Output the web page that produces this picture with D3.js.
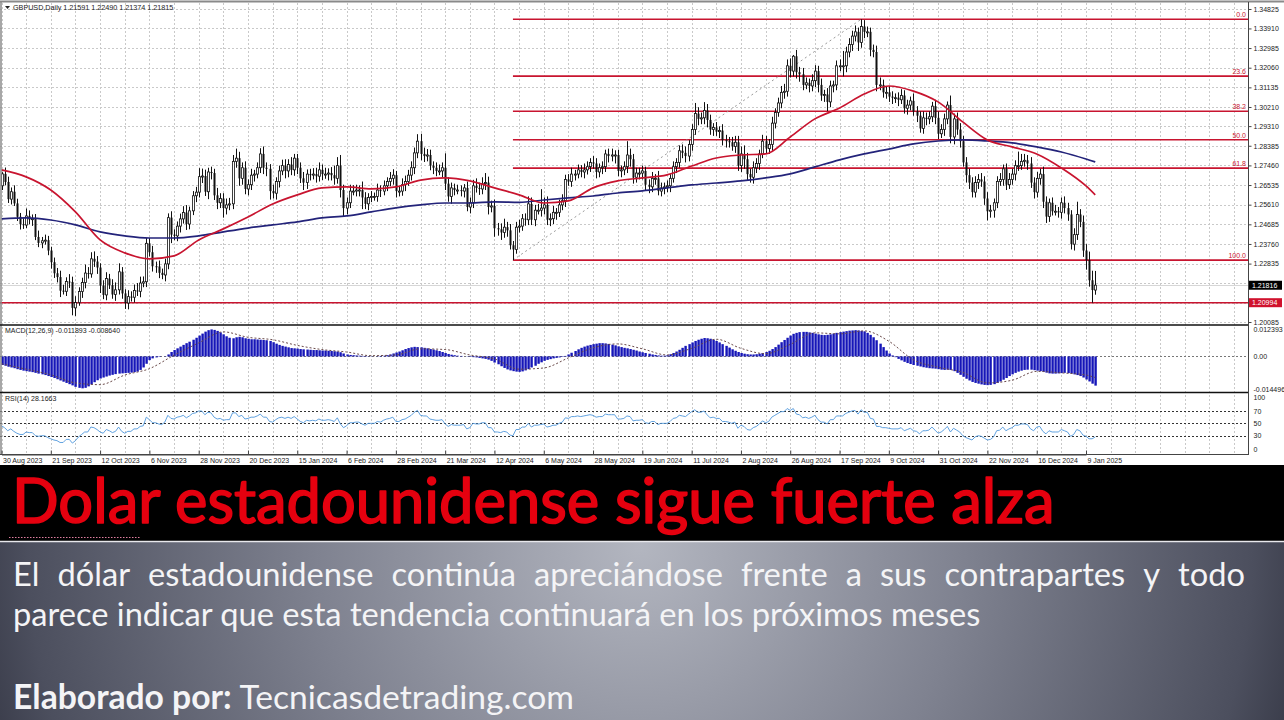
<!DOCTYPE html>
<html><head><meta charset="utf-8">
<script src="https://cdn.jsdelivr.net/npm/d3@7"></script>
<style>html,body{margin:0;padding:0;background:#fff;overflow:hidden}svg{display:block}</style>
</head><body><svg id="c" width="1284" height="720"></svg>
<script>
// ---------------- DATA ----------------
const headerText = "GBPUSD,Daily  1.21591 1.22490 1.21374 1.21815";
const firstOpen = 1.2650;
// daily closes, 30 Aug 2023 .. 14 Jan 2025 (16 bars per row)
const closes = [
1.2706,1.2668,1.2587,1.2622,1.2567,1.2504,1.2469,1.2465,1.2508,1.2491,1.2495,1.2409,1.2381,1.2391,1.2394,1.2345,
1.2290,1.2238,1.2220,1.2156,1.2153,1.2199,1.2197,1.2075,1.2100,1.2152,1.2195,1.2239,1.2235,1.2306,1.2293,1.2265,
1.2180,1.2136,1.2213,1.2182,1.2138,1.2160,1.2245,1.2143,1.2098,1.2128,1.2125,1.2157,1.2153,1.2192,1.2198,1.2379,
1.2337,1.2271,1.2270,1.2240,1.2230,1.2282,1.2500,1.2420,1.2414,1.2460,1.2494,1.2524,1.2470,1.2532,1.2603,1.2620,
1.2693,1.2696,1.2622,1.2715,1.2710,1.2605,1.2570,1.2590,1.2545,1.2560,1.2565,1.2765,1.2780,1.2685,1.2735,1.2635,
1.2655,1.2700,1.2705,1.2735,1.2800,1.2735,1.2730,1.2625,1.2615,1.2670,1.2720,1.2745,1.2720,1.2750,1.2725,1.2780,
1.2735,1.2685,1.2665,1.2705,1.2700,1.2705,1.2695,1.2725,1.2705,1.2705,1.2710,1.2700,1.2685,1.2745,1.2630,1.2545,
1.2570,1.2625,1.2625,1.2630,1.2630,1.2595,1.2565,1.2595,1.2600,1.2600,1.2630,1.2625,1.2650,1.2670,1.2685,1.2700,
1.2625,1.2625,1.2655,1.2670,1.2700,1.2735,1.2805,1.2860,1.2800,1.2790,1.2795,1.2745,1.2735,1.2720,1.2720,1.2735,
1.2660,1.2600,1.2640,1.2630,1.2630,1.2625,1.2640,1.2550,1.2570,1.2650,1.2640,1.2635,1.2660,1.2665,1.2550,1.2555,
1.2450,1.2445,1.2430,1.2455,1.2440,1.2370,1.2350,1.2455,1.2460,1.2495,1.2490,1.2565,1.2490,1.2535,1.2535,1.2545,
1.2560,1.2490,1.2495,1.2525,1.2525,1.2560,1.2580,1.2680,1.2670,1.2705,1.2705,1.2725,1.2715,1.2725,1.2740,1.2760,
1.2755,1.2715,1.2735,1.2740,1.2800,1.2790,1.2795,1.2795,1.2720,1.2725,1.2740,1.2795,1.2775,1.2690,1.2710,1.2710,
1.2720,1.2655,1.2645,1.2685,1.2685,1.2625,1.2640,1.2645,1.2650,1.2685,1.2740,1.2760,1.2815,1.2805,1.2790,1.2845,
1.2915,1.2990,1.2965,1.2970,1.3005,1.2960,1.2915,1.2925,1.2905,1.2910,1.2865,1.2860,1.2855,1.2835,1.2855,1.2745,
1.2800,1.2775,1.2705,1.2690,1.2735,1.2755,1.2800,1.2860,1.2825,1.2845,1.2945,1.2995,1.3040,1.3090,1.3095,1.3215,
1.3190,1.3260,1.3185,1.3175,1.3125,1.3135,1.3120,1.3145,1.3190,1.3125,1.3075,1.3080,1.3045,1.3120,1.3125,1.3215,
1.3215,1.3215,1.3280,1.3315,1.3355,1.3375,1.3325,1.3400,1.3375,1.3375,1.3290,1.3280,1.3125,1.3125,1.3090,1.3090,
1.3070,1.3065,1.3065,1.3055,1.3075,1.3015,1.3030,1.3050,1.3000,1.2980,1.2920,1.2970,1.2965,1.2975,1.3025,1.2970,
1.2895,1.2915,1.2965,1.3030,1.2880,1.2965,1.2915,1.2860,1.2760,1.2700,1.2665,1.2620,1.2665,1.2680,1.2670,1.2590,
1.2530,1.2535,1.2570,1.2670,1.2680,1.2730,1.2655,1.2680,1.2705,1.2745,1.2745,1.2765,1.2770,1.2755,1.2665,1.2620,
1.2685,1.2705,1.2575,1.2505,1.2570,1.2530,1.2530,1.2525,1.2570,1.2545,1.2515,1.2375,1.2420,1.2515,1.2480,1.2345,
1.2300,1.2205,1.2159,1.2182];
// upper / lower wick length beyond the body, in pips
const wickHi = [
8,30,25,20,30,22,18,28,35,26,20,22,30,18,26,20, 18,22,25,30,28,20,35,25,30,20,22,40,28,31,35,26,
20,25,30,22,28,35,40,22,20,30,25,28,35,30,25,25, 25,30,22,28,20,25,20,30,25,22,25,30,35,20,22,25,
40,35,30,20,25,20,35,25,25,30,28,30,45,30,25,30, 25,30,20,25,27,35,25,22,30,20,25,28,30,25,35,20,
20,25,30,22,25,28,30,35,25,30,22,28,45,40,50,25, 25,30,28,25,22,40,25,20,25,18,30,22,25,20,30,28,
20,25,30,28,25,30,25,33,35,30,28,25,20,25,30,25, 68,30,25,20,25,22,18,30,25,28,35,25,30,45,28,25,
30,25,28,40,25,30,20,25,30,22,25,35,30,25,30,89, 35,40,25,30,20,25,30,22,25,30,20,25,22,30,25,20,
30,25,20,25,20,25,30,22,25,20,25,65,30,25,25,25, 25,20,25,30,20,35,25,20,25,20,25,20,25,30,30,20,
25,50,30,25,39,30,25,20,25,20,30,25,20,25,30,30, 35,40,30,25,30,25,20,30,25,25,30,20,25,30,35,30,
35,6,30,25,30,25,20,30,28,25,30,22,30,25,20,25, 30,70,25,30,25,30,20,34,30,25,20,25,30,35,25,30,
30,25,20,25,30,25,25,20,35,25,20,30,25,25,20,30, 30,25,25,17,45,25,30,30,25,25,30,25,30,25,30,25,
30,25,20,25,30,20,25,30,25,25,66,35,30,25,30,25, 30,25,35,25,20,25,30,20,25,30,25,20,30,60,25,30,
30,40,45,67];
const wickLo = [
20,15,18,25,12,20,25,18,14,22,30,15,20,25,18,22, 30,22,25,30,15,22,28,35,38,15,30,28,22,18,25,30,
35,20,25,18,20,30,22,25,28,30,20,25,22,28,20,25, 20,25,30,25,20,30,25,40,20,25,30,22,28,25,20,30,
25,30,20,35,30,22,30,25,45,30,25,25,30,35,30,25, 30,25,30,20,25,30,35,40,25,30,28,20,35,30,25,28,
30,22,35,30,25,20,30,25,28,22,30,25,30,25,35,40, 30,25,20,25,30,55,25,30,22,20,25,28,20,25,22,30,
30,25,22,30,20,25,30,25,30,28,25,22,30,25,20,30, 30,25,35,25,20,25,30,20,30,25,22,28,25,30,35,25,
40,30,35,25,30,20,50,20,25,22,28,25,25,30,20,30, 30,25,30,25,35,22,25,30,20,25,30,20,25,30,22,25,
25,30,25,30,25,30,25,40,25,30,25,30,35,30,25,30, 30,25,30,25,30,20,25,30,25,30,20,30,25,25,30,25,
30,25,30,25,30,35,25,30,20,30,25,30,25,20,30,25, 30,45,30,25,30,25,30,20,25,25,30,25,20,25,30,25,
30,25,30,35,25,20,30,25,30,35,25,30,43,25,30,25, 25,50,30,25,30,25,40,25,30,25,30,25,30,25,25,30,
25,30,25,30,20,25,30,25,20,30,20,25,30,25,25,30, 25,20,30,25,30,35,25,30,20,35,30,25,25,30,25,30,
43,30,35,25,20,30,25,20,25,30,25,20,25,30,25,30, 25,30,30,30,25,20,20,25,30,25,30,25,30,25,25,30,
45,30,60,22];
// moving averages read at every 8th bar (+ last bar)
const maBars = [0,8,16,24,32,40,48,56,64,72,80,88,96,104,112,120,128,136,144,152,160,168,176,184,192,200,208,216,224,232,240,248,256,264,272,280,288,296,304,312,320,328,336,344,352,355];
const maRed = [1.2725,1.2692,1.2630,1.2527,1.2395,1.2334,1.2306,1.2320,1.2395,1.2447,1.2503,1.2564,1.2607,1.2640,1.2645,1.2635,1.2645,1.2677,1.2687,1.2673,1.2640,1.2607,1.2569,1.2579,1.2640,1.2673,1.2687,1.2701,1.2743,1.2781,1.2795,1.2800,1.2880,1.2965,1.3016,1.3082,1.3120,1.3096,1.3045,1.2951,1.2866,1.2833,1.2800,1.2734,1.2649,1.2607];
const maBlue = [1.2494,1.2499,1.2489,1.2466,1.2433,1.2414,1.2404,1.2404,1.2414,1.2433,1.2451,1.2466,1.2480,1.2499,1.2508,1.2527,1.2546,1.2560,1.2569,1.2569,1.2574,1.2572,1.2583,1.2593,1.2602,1.2616,1.2626,1.2640,1.2654,1.2663,1.2673,1.2687,1.2706,1.2739,1.2772,1.2800,1.2823,1.2847,1.2861,1.2866,1.2861,1.2852,1.2833,1.2809,1.2776,1.2762];
// MACD(12,26,9) main histogram per bar, x 1e-4
const macdHist = [
-35,-38,-42,-45,-48,-52,-55,-58,-60,-62,-64,-67,-70,-73,-76,-80, -84,-88,-93,-98,-103,-108,-113,-118,-124,-128,-130,-128,-122,-114,-105,-97,
-90,-86,-82,-78,-75,-72,-70,-69,-68,-67,-66,-64,-62,-55,-45,-30, -15,-8,-4,-2,0,1,8,18,26,33,40,47,54,60,68,76,
85,93,101,107,110,108,104,98,90,82,76,74,78,80,78,74, 72,70,70,69,68,67,66,63,58,52,47,43,40,37,34,33,
32,30,29,28,27,26,26,25,24,24,23,22,21,20,17,12, 8,6,5,4,3,2,2,1,1,0,1,2,3,5,8,12,
16,20,25,30,34,37,39,38,37,35,33,30,28,25,22,18, 14,10,7,5,3,2,0,-1,-2,-3,-4,-6,-8,-10,-13,-18,
-25,-32,-40,-47,-53,-57,-60,-62,-63,-61,-57,-52,-45,-38,-30,-24, -18,-14,-11,-8,-6,-4,-2,2,8,15,22,29,35,40,44,47,
50,52,54,54,53,51,48,45,41,38,35,33,30,27,24,20, 17,14,11,8,6,4,3,3,5,9,14,20,27,35,43,50,
57,63,68,72,75,74,72,68,63,57,50,43,36,29,23,18, 14,11,9,8,8,9,11,14,18,23,30,38,48,58,67,76,
85,92,96,99,100,100,98,96,93,90,88,87,88,90,93,96, 99,101,103,105,106,107,106,104,102,96,88,78,66,52,38,24,
12,4,-3,-10,-16,-22,-27,-31,-35,-38,-41,-44,-46,-48,-49,-50, -52,-54,-55,-54,-55,-60,-67,-75,-83,-91,-98,-104,-108,-111,-114,-116,
-117,-116,-113,-108,-102,-95,-88,-80,-73,-67,-62,-58,-55,-54,-54,-56, -58,-60,-63,-66,-69,-70,-70,-69,-68,-67,-68,-70,-73,-76,-80,-86,
-94,-102,-111,-119];
// MACD signal read at maBars, x 1e-4
const macdSignal = [-30,-52,-75,-108,-115,-76,-50,5,55,100,78,68,45,28,18,3,6,31,28,6,-10,-52,-47,-6,35,51,31,6,33,70,33,11,49,96,92,104,62,-14,-44,-65,-108,-97,-61,-67,-76,-86];
// RSI(14) per bar
const rsi = [
46,43,38,41,37,34,32,32,36,35,35,30,29,30,30,27, 25,23,22,19,19,24,24,18,22,28,32,36,36,44,43,40,
36,34,40,38,35,37,44,37,34,37,37,41,41,45,46,60, 56,51,51,49,48,52,63,58,57,60,61,63,59,62,66,67,
70,70,64,68,67,60,57,58,55,56,56,67,67,61,63,57, 58,60,60,62,65,60,60,53,52,56,59,60,58,60,58,61,
57,53,51,55,54,55,54,57,55,55,56,55,53,59,49,43, 46,51,51,52,52,49,47,50,50,50,53,52,55,57,58,60,
53,53,56,57,60,63,68,71,63,62,62,57,56,55,55,56, 49,45,48,47,47,47,48,41,43,50,49,49,51,51,43,43,
36,36,35,37,36,31,30,40,40,44,44,50,44,47,47,48, 49,44,45,47,47,50,52,59,58,61,61,62,61,62,63,64,
63,60,61,61,65,64,64,64,57,57,58,62,61,54,55,55, 56,51,50,53,53,48,50,50,50,53,58,59,63,62,61,65,
69,72,68,68,70,64,59,60,58,58,53,53,52,50,52,42, 47,45,40,39,43,45,49,54,51,53,60,63,66,69,69,74,
71,74,65,64,59,60,58,60,63,56,52,52,49,56,56,62, 62,62,66,68,70,71,65,72,68,68,58,57,45,45,43,43,
42,41,41,41,43,38,40,42,38,37,33,38,38,39,44,39, 34,36,40,45,36,42,39,36,30,27,25,23,28,30,29,26,
23,24,28,38,39,44,38,41,43,47,47,49,49,48,41,38, 44,45,37,33,38,36,36,36,40,38,36,29,32,40,38,31,
29,25,25,28];
const dateLabels = ["30 Aug 2023","21 Sep 2023","12 Oct 2023","6 Nov 2023","28 Nov 2023","20 Dec 2023","15 Jan 2024","6 Feb 2024","28 Feb 2024","21 Mar 2024","12 Apr 2024","6 May 2024","28 May 2024","19 Jun 2024","11 Jul 2024","2 Aug 2024","26 Aug 2024","17 Sep 2024","9 Oct 2024","31 Oct 2024","22 Nov 2024","16 Dec 2024","9 Jan 2025"];
const priceTicks = ["1.34825","1.33910","1.32985","1.32060","1.31135","1.30210","1.29310","1.28385","1.27460","1.26535","1.25610","1.24685","1.23760","1.22835","1.21910","1.20985","1.20085"];
const fibLow = {bar:166, price:1.2300}, fibHigh = {bar:279, price:1.3434};
const fibLevels = [0, 23.6, 38.2, 50.0, 61.8, 100.0];
const fibLabels = ["0.0","23.6","38.2","50.0","61.8","100.0"];
const supportPrice = 1.20994, supportLabel = "1.20994";
const bidPrice = 1.21816, bidLabel = "1.21816";
const macdTitle = "MACD(12,26,9) -0.011893 -0.008640";
const macdTicks = [0.012393, 0, -0.014496], macdTickLabels = ["0.012393","0.00","-0.014496"];
const rsiTitle = "RSI(14) 28.1663";
const rsiTicks = [100,70,50,30,0];
const titleText = "Dolar estadounidense sigue fuerte alza";
const bodyLine1 = "El dólar estadounidense continúa apreciándose frente a sus contrapartes y todo";
const bodyLine2 = "parece indicar que esta tendencia continuará en los próximos meses";
const creditBold = "Elaborado por:", creditText = " Tecnicasdetrading.com";

// ---------------- DRAW ----------------
const svg = d3.select('#c');
const AX = 1248;              // right axis x
const x = d3.scaleLinear().domain([0,352]).range([1.5,1086]);
const y = d3.scaleLinear().domain([1.20085,1.34825]).range([322,9]);
const yM = d3.scaleLinear().domain([-0.014496,0.012393]).range([392,326]);
const yR = d3.scaleLinear().domain([0,100]).range([454.2,392.5]);
const F = "'Liberation Sans', Arial, sans-serif";

svg.append('rect').attr('width',1284).attr('height',465).attr('fill','#fff');

// grid
const grid = svg.append('g').attr('stroke','#c9c9c9').attr('stroke-dasharray','2,2').attr('stroke-width',1);
const vb = d3.range(0, 404, 8);
grid.selectAll('line.v').data(vb).join('line')
  .attr('x1',d=>Math.round(x(d))+0.5).attr('x2',d=>Math.round(x(d))+0.5)
  .attr('y1',3).attr('y2',454);
grid.selectAll('line.h').data(priceTicks).join('line')
  .attr('x1',0).attr('x2',AX).attr('y1',d=>Math.round(y(+d))+0.5).attr('y2',d=>Math.round(y(+d))+0.5);

// header
svg.append('path').attr('d','M5,6 L10,6 L7.5,9 Z').attr('fill','#222');
svg.append('text').attr('x',13).attr('y',10).attr('font-family',F).attr('font-size',7.2).attr('fill','#222').text(headerText);

// fibonacci
const fibColor = '#c8142f';
const range = fibHigh.price - fibLow.price;
const fg = svg.append('g');
fg.selectAll('line').data(fibLevels).join('line')
  .attr('x1',x(fibLow.bar)).attr('x2',AX)
  .attr('y1',d=>y(fibHigh.price - range*d/100)).attr('y2',d=>y(fibHigh.price - range*d/100))
  .attr('stroke',fibColor).attr('stroke-width',1.6);
fg.selectAll('text').data(fibLevels).join('text')
  .attr('x',AX-2).attr('y',d=>y(fibHigh.price - range*d/100)-2)
  .attr('text-anchor','end').attr('font-family',F).attr('font-size',7).attr('fill',fibColor)
  .text((d,i)=>fibLabels[i]);
svg.append('line').attr('x1',x(fibLow.bar)).attr('y1',y(fibLow.price)).attr('x2',x(fibHigh.bar)).attr('y2',y(fibHigh.price))
  .attr('stroke','#9a9a9a').attr('stroke-dasharray','2,3').attr('stroke-width',1);
// support line & bid line
svg.append('line').attr('x1',0).attr('x2',AX).attr('y1',y(supportPrice)).attr('y2',y(supportPrice)).attr('stroke',fibColor).attr('stroke-width',1.6);
svg.append('line').attr('x1',0).attr('x2',AX).attr('y1',Math.round(y(bidPrice))+0.5).attr('y2',Math.round(y(bidPrice))+0.5).attr('stroke','#d6d6d6').attr('stroke-width',1);

// candles
const bars = closes.map((c,i)=>{const o = i ? closes[i-1] : firstOpen;
  return {i,o,c,h:Math.max(o,c)+wickHi[i]/1e4,l:Math.min(o,c)-wickLo[i]/1e4};});
const cg = svg.append('g');
cg.selectAll('line').data(bars).join('line')
  .attr('x1',d=>Math.round(x(d.i))+0.5).attr('x2',d=>Math.round(x(d.i))+0.5)
  .attr('y1',d=>y(d.h)).attr('y2',d=>y(d.l)).attr('stroke','#111').attr('stroke-width',1);
cg.selectAll('rect').data(bars).join('rect')
  .attr('x',d=>Math.round(x(d.i))-0.5).attr('width',2)
  .attr('y',d=>y(Math.max(d.o,d.c))).attr('height',d=>Math.max(1,Math.abs(y(d.o)-y(d.c))))
  .attr('fill',d=>d.c>=d.o?'#fff':'#111').attr('stroke','#111').attr('stroke-width',d=>d.c>=d.o?0.8:0);

// moving averages
const maLine = d3.line().x(d=>x(d[0])).y(d=>y(d[1])).curve(d3.curveMonotoneX);
svg.append('path').attr('d',maLine(maBars.map((b,i)=>[b,maBlue[i]]))).attr('fill','none').attr('stroke','#23237a').attr('stroke-width',1.7);
svg.append('path').attr('d',maLine(maBars.map((b,i)=>[b,maRed[i]]))).attr('fill','none').attr('stroke','#c8142f').attr('stroke-width',1.7);

// ---- MACD panel
svg.append('line').attr('x1',0).attr('x2',AX).attr('y1',Math.round(yM(0))+0.5).attr('y2',Math.round(yM(0))+0.5)
  .attr('stroke','#777').attr('stroke-dasharray','2,2');
svg.append('g').selectAll('rect').data(macdHist).join('rect')
  .attr('x',(d,i)=>Math.round(x(i))-0.6).attr('width',2.4)
  .attr('y',d=>yM(Math.max(0,d/1e4))).attr('height',d=>Math.abs(yM(d/1e4)-yM(0)))
  .attr('fill','#1616b8');
svg.append('path').attr('d',d3.line().x(d=>x(d[0])).y(d=>yM(d[1]/1e4)).curve(d3.curveMonotoneX)(maBars.map((b,i)=>[b,macdSignal[i]])))
  .attr('fill','none').attr('stroke','#6a4a4a').attr('stroke-width',1).attr('stroke-dasharray','2,2');
svg.append('text').attr('x',5).attr('y',333).attr('font-family',F).attr('font-size',7).attr('fill','#222').text(macdTitle);

// ---- RSI panel
svg.append('g').selectAll('line').data([70,50,30]).join('line')
  .attr('x1',0).attr('x2',AX).attr('y1',d=>Math.round(yR(d))+0.5).attr('y2',d=>Math.round(yR(d))+0.5)
  .attr('stroke','#333').attr('stroke-dasharray','2,2');
svg.append('path').attr('d',d3.line().x((d,i)=>x(i)).y(d=>yR(d))(rsi))
  .attr('fill','none').attr('stroke','#4f97dd').attr('stroke-width',0.9);
svg.append('text').attr('x',5).attr('y',401).attr('font-family',F).attr('font-size',7).attr('fill','#222').text(rsiTitle);

// frames
svg.append('line').attr('x1',0).attr('x2',1284).attr('y1',1.5).attr('y2',1.5).attr('stroke','#8a8a8a').attr('stroke-width',2);
svg.append('line').attr('x1',1).attr('x2',1).attr('y1',1).attr('y2',455).attr('stroke','#8a8a8a').attr('stroke-width',1.5);
[325, 392.5].forEach(v=>svg.append('line').attr('x1',0).attr('x2',AX).attr('y1',v).attr('y2',v).attr('stroke','#111').attr('stroke-width',1.6));
svg.append('line').attr('x1',AX+0.5).attr('x2',AX+0.5).attr('y1',2).attr('y2',455).attr('stroke','#444').attr('stroke-width',1);

// axes
function styleAxis(g){ g.select('.domain').remove(); g.selectAll('line').attr('stroke','#444');
  g.selectAll('text').attr('font-family',F).attr('font-size',7).attr('fill','#222'); }
svg.append('g').attr('transform',`translate(${AX+0.5},0)`)
  .call(d3.axisRight(y).tickValues(priceTicks.map(Number)).tickFormat((d,i)=>priceTicks[i]).tickSize(3).tickPadding(2))
  .call(styleAxis);
svg.append('g').attr('transform',`translate(${AX+0.5},0)`)
  .call(d3.axisRight(yM).tickValues(macdTicks).tickFormat((d,i)=>macdTickLabels[i]).tickSize(3).tickPadding(2))
  .call(styleAxis)
  .call(g=>g.selectAll('.tick text').attr('dy',(d,i)=>i===0?'0.75em':i===2?'-0.05em':'0.32em'))
  .call(g=>g.selectAll('.tick line').remove());
svg.append('g').attr('transform',`translate(${AX+0.5},0)`)
  .call(d3.axisRight(yR).tickValues(rsiTicks).tickSize(3).tickPadding(2))
  .call(styleAxis)
  .call(g=>g.selectAll('.tick text').attr('dy',d=>d===100?'0.95em':d===0?'-0.35em':'0.32em'))
  .call(g=>g.selectAll('.tick line').remove());
svg.append('g').attr('transform','translate(0,454.5)')
  .call(d3.axisBottom(x).tickValues(dateLabels.map((d,i)=>i*16)).tickFormat((d,i)=>dateLabels[i]).tickSizeInner(-4).tickSizeOuter(0).tickPadding(4))
  .call(g=>{g.select('.domain').attr('stroke','#444');
    g.selectAll('line').attr('stroke','#444');
    g.selectAll('text').attr('font-family',F).attr('font-size',7).attr('fill','#222').attr('text-anchor','start').attr('dx',1).attr('y',4);});
svg.append('line').attr('x1',0).attr('x2',AX).attr('y1',454.5).attr('y2',454.5).attr('stroke','#444');

// price labels (bid & support)
function priceBox(p, label, bg){
  const yy = y(p);
  svg.append('rect').attr('x',AX+1).attr('y',yy-4.5).attr('width',33).attr('height',9).attr('fill',bg);
  svg.append('text').attr('x',AX+4).attr('y',yy+2.6).attr('font-family',F).attr('font-size',7).attr('fill','#fff').text(label);
}
priceBox(bidPrice, bidLabel, '#000');
priceBox(supportPrice, supportLabel, '#d0122d');

// ---------------- LOWER BANNER ----------------
const defs = svg.append('defs');
const rg = defs.append('radialGradient').attr('id','bg').attr('gradientUnits','userSpaceOnUse')
  .attr('cx',640).attr('cy',545).attr('r',720).attr('fx',640).attr('fy',545);
rg.append('stop').attr('offset',0).attr('stop-color','#b3b6c0');
rg.append('stop').attr('offset',0.45).attr('stop-color','#7f8290');
rg.append('stop').attr('offset',0.85).attr('stop-color','#4c4f5e');
rg.append('stop').attr('offset',1).attr('stop-color','#2c2e3b');
svg.append('rect').attr('x',0).attr('y',465).attr('width',1284).attr('height',76).attr('fill','#000');
svg.append('line').attr('x1',9).attr('x2',140).attr('y1',537.5).attr('y2',537.5).attr('stroke','#e07ea0').attr('stroke-dasharray','1.5,1.5');
svg.append('rect').attr('x',0).attr('y',541).attr('width',1284).attr('height',179).attr('fill','url(#bg)');
svg.append('line').attr('x1',0).attr('x2',1284).attr('y1',541.5).attr('y2',541.5).attr('stroke','#e8e8ec').attr('stroke-width',1.5);

const TF = "Lato, 'Open Sans', sans-serif";
function fit(t, target){ const w=t.node().getComputedTextLength(); t.attr('font-size', parseFloat(t.attr('font-size'))*target/w); }
const title = svg.append('text').attr('x',12).attr('y',523).attr('font-family',TF).attr('font-size',58)
  .attr('fill','#e5000f').attr('stroke','#e5000f').attr('stroke-width',1.6).attr('stroke-linejoin','round').text(titleText);
fit(title, 1043);

const l2 = svg.append('text').attr('x',13).attr('y',626).attr('font-family',TF).attr('font-size',30).attr('fill','#f4f4f6').text(bodyLine2);
fit(l2, 968);
const fs = parseFloat(l2.attr('font-size'));
const words = bodyLine1.split(' ');
const wt = words.map(w=>svg.append('text').attr('y',586).attr('font-family',TF).attr('font-size',fs).attr('fill','#f4f4f6').text(w));
const ww = wt.map(t=>t.node().getComputedTextLength());
const gap = (1245-13-d3.sum(ww))/(words.length-1);
let cx = 13; wt.forEach((t,i)=>{t.attr('x',cx); cx += ww[i]+gap;});

const l3 = svg.append('text').attr('x',13).attr('y',709).attr('font-family',TF).attr('font-size',fs).attr('fill','#f4f4f6');
l3.append('tspan').attr('font-weight','bold').text(creditBold);
l3.append('tspan').text(creditText);
fit(l3, 561);
</script></body></html>
